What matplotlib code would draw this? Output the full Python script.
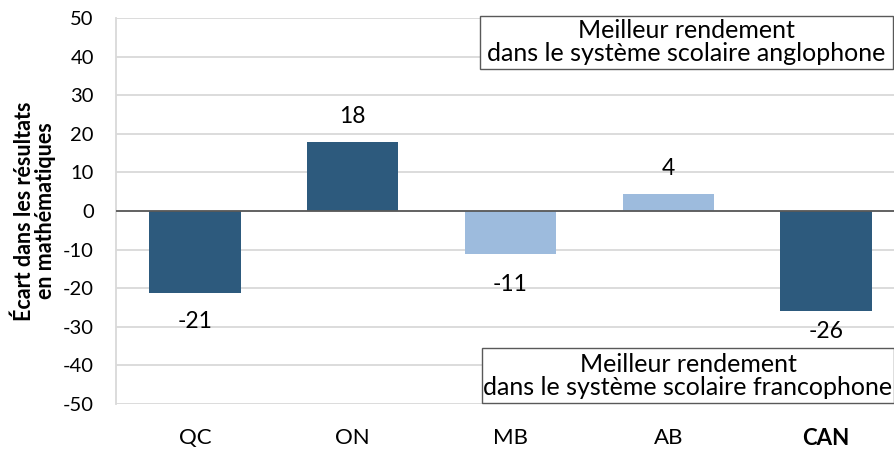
import matplotlib
matplotlib.use("Agg")
import matplotlib.pyplot as plt
from matplotlib.patches import Rectangle

categories = ["QC", "ON", "MB", "AB", "CAN"]
values = [-21.2, 17.9, -11.1, 4.4, -25.9]
labels = ["-21", "18", "-11", "4", "-26"]
colors = ["#2D5A7D", "#2D5A7D", "#9DBBDD", "#9DBBDD", "#2D5A7D"]
yticks = [-50, -40, -30, -20, -10, 0, 10, 20, 30, 40, 50]
ylabel = "Écart dans les résultats\nen mathématiques"
box_top = "Meilleur rendement\ndans le système scolaire anglophone"
box_bottom = "Meilleur rendement\ndans le système scolaire francophone"

plt.rcParams['font.family'] = ['Lato', 'DejaVu Sans']

fig = plt.figure(figsize=(8.94, 4.5), dpi=100)
W, H = 894, 450
left, right, top, bottom = 116, 905, 18, 404
ax = fig.add_axes([left / W, 1 - bottom / H, (right - left) / W, (bottom - top) / H])
ax.set_xlim(-0.5, 4.5)
ax.set_ylim(-50, 50)

x = list(range(len(categories)))
ax.bar(x, values, width=0.58, color=colors, zorder=3)

label_offsets = [-21, 18.5, -22, 18.5, -15]  # points
for xi, v, lab, off in zip(x, values, labels, label_offsets):
    ax.annotate(lab, (xi, v), xytext=(0, off), textcoords="offset points",
                ha="center", va="center", fontsize=16.5, color="#000000")

ax.set_yticks(yticks)
ax.set_yticklabels([str(t) for t in yticks], fontsize=14.5)
ax.set_xticks(x)
ax.set_xticklabels(categories, fontsize=16)
for t in ax.get_xticklabels():
    if t.get_text() == "CAN":
        t.set_fontweight("bold")
ax.tick_params(axis="y", length=0, pad=16)
ax.tick_params(axis="x", length=0, pad=17)

ax.grid(axis="y", color="#D9D9D9", linewidth=1.3, zorder=0)
ax.axhline(0, color="#595959", linewidth=1.3, zorder=4)
for s in ["top", "right", "bottom"]:
    ax.spines[s].set_visible(False)
ax.spines["left"].set_color("#D9D9D9")
ax.spines["left"].set_linewidth(1.3)

fig.text(35 / W, 1 - 211 / H, ylabel, rotation=90, ha="center", va="center",
         fontsize=15.5, fontweight="bold", linespacing=1.0)

# annotation boxes
for (x0, y0, x1, y1) in [(480, 16, 893, 69), (482, 348, 894, 403)]:
    fig.add_artist(Rectangle((x0 / W, 1 - y1 / H), (x1 - x0) / W, (y1 - y0) / H,
                             transform=fig.transFigure, facecolor="white",
                             edgecolor="#595959", linewidth=1.0, zorder=5))
fig.text(686 / W, 1 - 42 / H, box_top, ha="center", va="center", fontsize=18,
         linespacing=0.95, zorder=6)
fig.text(688 / W, 1 - 376 / H, box_bottom, ha="center", va="center", fontsize=18,
         linespacing=0.95, zorder=6)

fig.savefig("out.png", dpi=100)
